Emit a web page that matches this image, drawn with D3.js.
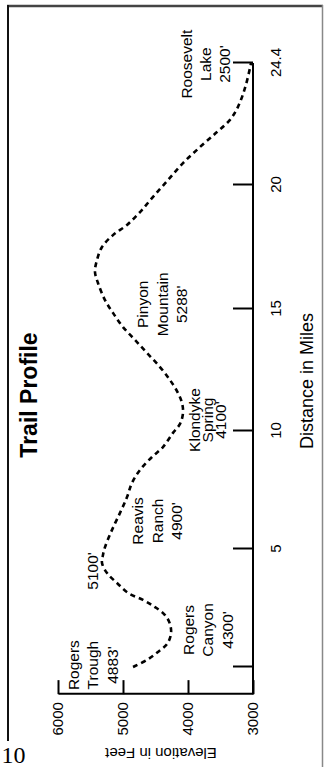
<!DOCTYPE html>
<html>
<head>
<meta charset="utf-8">
<script src="https://cdn.jsdelivr.net/npm/d3@7"></script>
<style>
html, body { margin: 0; padding: 0; background: #fff; }
svg { display: block; }
text { font-family: "Liberation Sans", Arial, Helvetica, sans-serif; fill: #000; }
</style>
</head>
<body>
<svg id="chart" width="324" height="767"></svg>
<script>
// ---------- data ----------
const chartTitle = "Trail Profile";
const distanceTitle = "Distance in Miles";
const elevationTitle = "Elevation in Feet";
const pageNumber = "10";

const distanceTicks = [0, 5, 10, 15, 20, 24.4];
const distanceTickLabels = ["", "5", "10", "15", "20", "24.4"];
const elevationTicks = [3000, 4000, 5000, 6000];
const elevationTickLabels = ["3000", "4000", "5000", "6000"];

// trail profile (miles, feet as drawn)
const trailDistance = [0, 0.30, 0.64, 0.97, 1.40, 1.82, 2.20, 2.54, 2.84, 3.14, 3.56, 3.98, 4.41, 4.75,
  5.08, 5.81, 6.53, 7.20, 7.80, 8.35, 8.90, 9.32, 9.92, 10.29, 10.74, 11.15, 11.56, 12.09, 12.62,
  13.20, 13.73, 14.26, 14.84, 15.36, 16.05, 16.49, 16.98, 17.50, 17.98, 18.39, 18.91, 19.52,
  20.18, 20.79, 21.37, 21.91, 22.35, 22.82, 23.50, 24.22, 24.4];
const trailElevation = [4846, 4631, 4462, 4323, 4262, 4277, 4354, 4508, 4692, 4923, 5092, 5246, 5323, 5308,
  5277, 5169, 5046, 4938, 4862, 4738, 4554, 4385, 4231, 4123, 4077, 4092, 4154, 4277, 4431,
  4631, 4815, 5000, 5154, 5277, 5385, 5431, 5400, 5323, 5154, 4938, 4738, 4538,
  4308, 4077, 3815, 3554, 3354, 3231, 3123, 3046, 3030];

const placeNames = [
  ["Rogers", "Trough", "4883'"],
  ["Rogers", "Canyon", "4300'"],
  ["5100'"],
  ["Reavis", "Ranch", "4900'"],
  ["Klondyke", "Spring", "4100'"],
  ["Pinyon", "Mountain", "5288'"],
  ["Roosevelt", "Lake", "2500'"]
];
const placeDistance = [0.08, 1.57, 4.07, 6.19, 10.45, 15.19, 24.36];
const placeElevation = [5677, 3908, 5385, 4692, 3815, 4615, 3938];

// ---------- layout ----------
const W = 324, H = 767;
const placeLineGap = [19.5, 19.5, 19.5, 19.5, 13, 19.5, 19];
const svg = d3.select("#chart");

// frame of the printed page
svg.append("line").attr("x1", 7).attr("x2", 323).attr("y1", 6).attr("y2", 6)
  .attr("stroke", "#444").attr("stroke-width", 2.5);
svg.append("line").attr("x1", 8).attr("x2", 8).attr("y1", 5).attr("y2", 741)
  .attr("stroke", "#111").attr("stroke-width", 2);
svg.append("line").attr("x1", 322.5).attr("x2", 322.5).attr("y1", 5).attr("y2", H)
  .attr("stroke", "#888").attr("stroke-width", 1.5);
svg.append("text").attr("x", 1.5).attr("y", 763)
  .style("font-family", "'Liberation Serif', 'Times New Roman', serif")
  .style("font-size", "24px").text(pageNumber);

// chart drawn in landscape and rotated onto the portrait page
const g = svg.append("g").attr("transform", `translate(0,${H}) rotate(-90)`);

const x = d3.scaleLinear().domain(distanceTicks).range([100, 218, 336, 458, 582, 704]);
const y = d3.scaleLinear().domain([3000, 6000]).range([253, 58]);
const axisStartMiles = -1.15;

// distance axis
const xAxis = g.append("g").attr("transform", `translate(0,${y(3000)})`)
  .call(d3.axisBottom(x).tickValues(distanceTicks).tickSizeInner(-20).tickSizeOuter(0)
    .tickPadding(17).tickFormat((d, i) => distanceTickLabels[i]));
xAxis.select(".domain").remove();
xAxis.append("line").attr("x1", x(axisStartMiles)).attr("x2", x(24.4))
  .attr("stroke", "#000").attr("stroke-width", 2);
xAxis.selectAll(".tick line").attr("stroke", "#000").attr("stroke-width", 2);
xAxis.selectAll(".tick text").style("font-size", "15px").attr("font-family", null);

// elevation axis
const yAxis = g.append("g").attr("transform", `translate(${x(axisStartMiles)},0)`)
  .call(d3.axisLeft(y).tickValues(elevationTicks).tickSizeInner(-14).tickSizeOuter(0)
    .tickPadding(8).tickFormat((d, i) => elevationTickLabels[i]));
yAxis.select(".domain").attr("stroke", "#000").attr("stroke-width", 2);
yAxis.selectAll(".tick line").attr("stroke", "#000").attr("stroke-width", 2);
yAxis.selectAll(".tick text").style("font-size", "15px").attr("font-family", null);

// trail line
const pts = trailDistance.map((d, i) => [d, trailElevation[i]]);
g.append("path").datum(pts)
  .attr("fill", "none").attr("stroke", "#000").attr("stroke-width", 2.6)
  .attr("stroke-dasharray", "5,4")
  .attr("d", d3.line().x(d => x(d[0])).y(d => y(d[1])).curve(d3.curveCatmullRom));

// place labels
placeNames.forEach((lines, i) => {
  const t = g.append("text").attr("text-anchor", "middle").style("font-size", "15.5px");
  lines.forEach((s, k) => {
    t.append("tspan").attr("x", x(placeDistance[i]))
      .attr("y", y(placeElevation[i]) + k * placeLineGap[i]).text(s);
  });
});

// titles
g.append("text").attr("x", 372).attr("y", 37).attr("text-anchor", "middle")
  .style("font-size", "23px").style("font-weight", "bold").text(chartTitle);
g.append("text").attr("x", 386).attr("y", 313).attr("text-anchor", "middle")
  .style("font-size", "18px").text(distanceTitle);
g.append("text").attr("transform", `translate(19,161) rotate(-90)`).attr("text-anchor", "middle")
  .style("font-size", "15px").text(elevationTitle);
</script>
</body>
</html>
